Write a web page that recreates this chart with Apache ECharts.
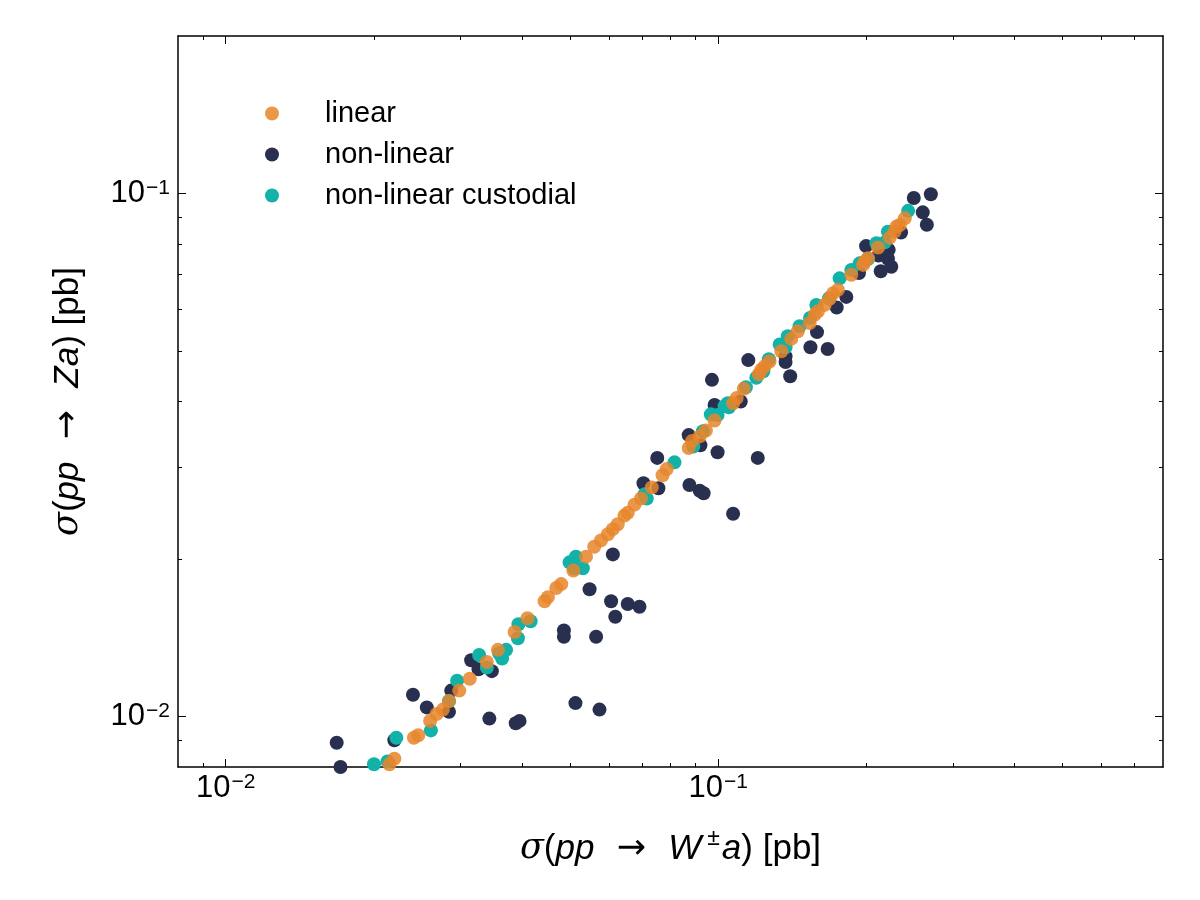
<!DOCTYPE html>
<html>
<head>
<meta charset="utf-8">
<script src="https://cdn.jsdelivr.net/npm/echarts@6/dist/echarts.min.js"></script>
<style>
  html, body { margin: 0; padding: 0; background: #fff; }
  #main { width: 1200px; height: 900px; }
</style>
</head>
<body>
<div id="main"></div>
<script>
  // σ(pp -> W±a) vs σ(pp -> Za), both in pb
  var linearPts = [
    [0.0215, 0.0081], [0.0220, 0.0083], [0.0241, 0.0091], [0.0246, 0.0092], [0.0260, 0.0098],
    [0.0268, 0.0101], [0.0276, 0.0103], [0.0284, 0.0107], [0.0298, 0.0112], [0.0313, 0.0118],
    [0.0339, 0.0127], [0.0357, 0.0134], [0.0386, 0.0145], [0.0410, 0.0154], [0.0444, 0.0166],
    [0.0451, 0.0169], [0.0469, 0.0176], [0.0480, 0.0179], [0.0508, 0.0190], [0.0539, 0.0202],
    [0.0560, 0.0211], [0.0578, 0.0217], [0.0597, 0.0223], [0.0611, 0.0228], [0.0625, 0.0233],
    [0.0645, 0.0242], [0.0655, 0.0245], [0.0676, 0.0254], [0.0697, 0.0261], [0.0733, 0.0274],
    [0.0771, 0.0289], [0.0786, 0.0297], [0.0871, 0.0326], [0.0885, 0.0336], [0.0917, 0.0343],
    [0.0944, 0.0352], [0.0983, 0.0368], [0.1072, 0.0397], [0.1090, 0.0406], [0.1127, 0.0423],
    [0.1209, 0.0451], [0.1223, 0.0460], [0.1242, 0.0467], [0.1271, 0.0477], [0.1343, 0.0499],
    [0.1407, 0.0527], [0.1451, 0.0545], [0.1534, 0.0565], [0.1570, 0.0586], [0.1594, 0.0595],
    [0.1645, 0.0612], [0.1684, 0.0629], [0.1710, 0.0644], [0.1750, 0.0654], [0.1863, 0.0699],
    [0.1968, 0.0730], [0.1984, 0.0741], [0.2014, 0.0752], [0.2111, 0.0788], [0.2229, 0.0823],
    [0.2281, 0.0845], [0.2300, 0.0864], [0.2337, 0.0870], [0.2392, 0.0896]
  ];
  var nonLinearPts = [
    [0.0168, 0.0089], [0.0171, 0.0080], [0.0220, 0.0090], [0.0240, 0.0110], [0.0256, 0.0104],
    [0.0284, 0.0102], [0.0287, 0.0112], [0.0315, 0.0128], [0.0326, 0.0123], [0.0347, 0.0122],
    [0.0343, 0.0099], [0.0388, 0.0097], [0.0395, 0.0098], [0.0486, 0.0146], [0.0486, 0.0142],
    [0.0513, 0.0106], [0.0548, 0.0175], [0.0565, 0.0142], [0.0574, 0.0103], [0.0606, 0.0166],
    [0.0611, 0.0204], [0.0618, 0.0155], [0.0655, 0.0164], [0.0692, 0.0162], [0.0705, 0.0279],
    [0.0752, 0.0312], [0.0756, 0.0273], [0.0874, 0.0277], [0.0917, 0.0270], [0.0934, 0.0267],
    [0.0920, 0.0330], [0.0871, 0.0345], [0.0971, 0.0440], [0.0983, 0.0394], [0.0997, 0.0320],
    [0.1072, 0.0244], [0.1111, 0.0400], [0.1151, 0.0480], [0.1203, 0.0312], [0.1370, 0.0488],
    [0.1370, 0.0476], [0.1400, 0.0447], [0.1539, 0.0508], [0.1587, 0.0543], [0.1668, 0.0504],
    [0.1740, 0.0605], [0.1820, 0.0634], [0.1931, 0.0704], [0.1996, 0.0793], [0.2116, 0.0761],
    [0.2138, 0.0710], [0.2219, 0.0780], [0.2211, 0.0750], [0.2246, 0.0724], [0.2351, 0.0842],
    [0.2495, 0.0980], [0.2702, 0.0996], [0.2602, 0.0920], [0.2652, 0.0871]
  ];
  var custodialPts = [
    [0.0200, 0.0081], [0.0213, 0.0082], [0.0222, 0.0091], [0.0261, 0.0094], [0.0284, 0.0107],
    [0.0295, 0.0117], [0.0327, 0.0131], [0.0339, 0.0124], [0.0359, 0.0132], [0.0371, 0.0134],
    [0.0364, 0.0129], [0.0392, 0.0141], [0.0393, 0.0150], [0.0416, 0.0152], [0.0499, 0.0197],
    [0.0514, 0.0202], [0.0531, 0.0192], [0.0510, 0.0192], [0.0709, 0.0266], [0.0716, 0.0261],
    [0.0815, 0.0306], [0.0890, 0.0328], [0.0931, 0.0351], [0.0966, 0.0378], [0.0997, 0.0377],
    [0.1030, 0.0392], [0.1046, 0.0397], [0.1051, 0.0390], [0.1138, 0.0426], [0.1195, 0.0444],
    [0.1235, 0.0457], [0.1267, 0.0482], [0.1333, 0.0514], [0.1370, 0.0508], [0.1384, 0.0533],
    [0.1463, 0.0557], [0.1536, 0.0578], [0.1582, 0.0612], [0.1678, 0.0630], [0.1764, 0.0688],
    [0.1863, 0.0714], [0.1937, 0.0735], [0.2014, 0.0749], [0.2095, 0.0803], [0.2178, 0.0806],
    [0.2211, 0.0845], [0.2430, 0.0926]
  ];

  var xMajor = [0.01, 0.1];
  var xMinor = [0.009, 0.02, 0.03, 0.04, 0.05, 0.06, 0.07, 0.08, 0.09, 0.2, 0.3, 0.4, 0.5, 0.6, 0.7];
  var yMajor = [0.01, 0.1];
  var yMinor = [0.009, 0.02, 0.03, 0.04, 0.05, 0.06, 0.07, 0.08, 0.09];

  var FONT = '"Liberation Sans", Arial, Helvetica, sans-serif';

  var tickRich = {
    b: { fontSize: 31, lineHeight: 32, fontFamily: FONT, color: '#000', verticalAlign: 'bottom' },
    s: { fontSize: 21, lineHeight: 21, fontFamily: FONT, color: '#000', verticalAlign: 'top', padding: [0, 0, 0, 1] }
  };
  function powLabel(v) {
    var e = Math.round(Math.log(v) / Math.LN10);
    return '{b|10}{s|\u2212' + Math.abs(e) + '}';
  }
  var nameRich = {
    n: { fontSize: 35, fontFamily: FONT, color: '#000', lineHeight: 44 },
    g: { fontSize: 35, fontFamily: '"DejaVu Serif", serif', color: '#000', fontStyle: 'italic', lineHeight: 44 },
    i: { fontSize: 35, fontFamily: FONT, color: '#000', fontStyle: 'italic', lineHeight: 44 },
    ar: { fontSize: 35, fontFamily: '"DejaVu Sans", sans-serif', color: '#000', lineHeight: 44 },
    sup: { fontSize: 23, fontFamily: FONT, color: '#000', verticalAlign: 'top', lineHeight: 23, padding: [0, 2, 0, 6] }
  };

  function makeAxis(pos, isX, major) {
    return {
      type: 'log',
      logBase: 10,
      min: 0.008,
      max: isX ? 0.8 : 0.2,
      position: pos,
      splitLine: { show: false },
      axisLine: { show: major, onZero: false, lineStyle: { color: '#000', width: 1.5 } },
      axisTick: {
        show: true,
        inside: true,
        length: major ? 8 : 4,
        lineStyle: { color: '#000', width: 1 },
        customValues: major ? (isX ? xMajor : yMajor) : (isX ? xMinor : yMinor)
      },
      axisLabel: { show: false },
      axisPointer: { show: false }
    };
  }

  var xBottom = makeAxis('bottom', true, true);
  xBottom.axisLabel = {
    show: true, margin: 5, fontSize: 31, customValues: xMajor,
    formatter: powLabel, rich: tickRich
  };
  xBottom.name = '{g|\u03c3}{n|(}{i|pp}{ar|  \u2192  }{i|W}{sup|\u00b1}{i|a}{n|) [pb]}';
  xBottom.nameLocation = 'middle';
  xBottom.nameGap = 60;
  xBottom.nameTextStyle = { rich: nameRich };

  var yLeft = makeAxis('left', false, true);
  yLeft.axisLabel = {
    show: true, margin: 8, fontSize: 31, customValues: yMajor,
    formatter: powLabel, rich: tickRich
  };
  yLeft.name = '{g|\u03c3}{n|(}{i|pp}{ar|  \u2192  }{i|Za}{n|) [pb]}';
  yLeft.nameLocation = 'middle';
  yLeft.nameGap = 88;
  yLeft.nameTextStyle = { rich: nameRich };

  var chart = echarts.init(document.getElementById('main'), null, { renderer: 'canvas' });

  var option = {
    backgroundColor: '#fff',
    animation: false,
    grid: { left: 178, right: 37, top: 36, bottom: 133, containLabel: false },
    legend: {
      orient: 'vertical',
      left: 260,
      top: 94,
      itemGap: 12,
      itemWidth: 14,
      itemHeight: 14,
      data: ['linear', 'non-linear', 'non-linear custodial'],
      textStyle: { fontSize: 29, fontFamily: FONT, color: '#000', padding: [0, 0, 0, 41] }
    },
    xAxis: [
      xBottom,
      makeAxis('bottom', true, false),
      makeAxis('top', true, true),
      makeAxis('top', true, false)
    ],
    yAxis: [
      yLeft,
      makeAxis('left', false, false),
      makeAxis('right', false, true),
      makeAxis('right', false, false)
    ],
    series: [
      {
        name: 'non-linear', type: 'scatter', data: nonLinearPts,
        symbol: 'circle', symbolSize: 14,
        itemStyle: { color: '#29304F', opacity: 1 }
      },
      {
        name: 'non-linear custodial', type: 'scatter', data: custodialPts,
        symbol: 'circle', symbolSize: 14,
        itemStyle: { color: '#12B2A9', opacity: 1 }
      },
      {
        name: 'linear', type: 'scatter', data: linearPts,
        symbol: 'circle', symbolSize: 14,
        itemStyle: { color: '#E8852A', opacity: 0.85 }
      }
    ]
  };

  chart.setOption(option);
</script>
</body>
</html>
